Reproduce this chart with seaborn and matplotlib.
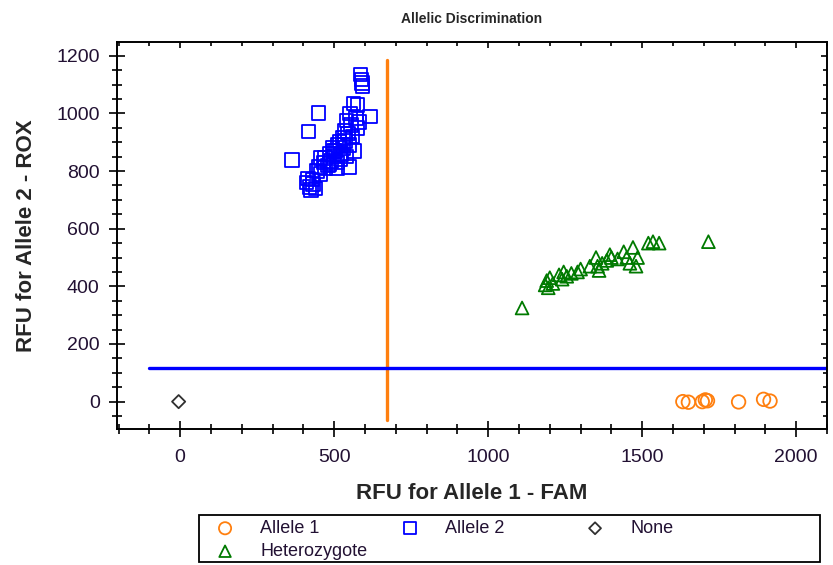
import matplotlib
matplotlib.use("Agg")
import matplotlib.pyplot as plt
from matplotlib.ticker import MultipleLocator
from matplotlib.lines import TICKDOWN, TICKLEFT
from matplotlib.patches import Rectangle
import numpy as np
import pandas as pd
import seaborn as sns

# ---- data ----
allele1_x = [1632, 1650, 1695, 1705, 1712, 1813, 1894, 1915]
allele1_y = [0, -2, 0, 6, 3, -1, 8, 2]

allele2_x = [363, 417, 449, 585, 588, 590, 592, 617, 563, 575, 552, 540, 570, 580,
             410, 420, 425, 430, 440, 445, 450, 455, 465, 470, 480, 485, 490, 495,
             500, 505, 510, 512, 518, 522, 528, 530, 535, 540, 545, 550, 555, 560,
             565, 575, 510, 500, 520, 470, 485, 455, 535, 548, 415, 432]
allele2_y = [838, 937, 1002, 1135, 1118, 1105, 1095, 990, 1035, 1030, 1000, 975, 985, 970,
             760, 745, 735, 770, 740, 800, 815, 790, 830, 845, 820, 860, 835, 880,
             850, 870, 830, 890, 900, 860, 915, 880, 940, 850, 930, 890, 960, 920,
             870, 950, 810, 870, 840, 810, 825, 845, 905, 815, 775, 755]

het_x = [1110, 1185, 1190, 1195, 1200, 1210, 1230, 1240, 1245, 1255, 1270, 1290,
         1300, 1330, 1350, 1355, 1360, 1370, 1385, 1395, 1400, 1420, 1440, 1450,
         1460, 1470, 1480, 1485, 1520, 1535, 1555, 1715]
het_y = [325, 405, 420, 395, 430, 410, 440, 425, 450, 435, 445, 450,
         460, 470, 500, 470, 455, 480, 490, 510, 500, 495, 520, 500,
         480, 535, 470, 500, 550, 555, 550, 555]

none_x = [-5]
none_y = [0]

# threshold lines
fam_cut = 672
fam_cut_span = [-65, 1185]
rox_cut = 117
rox_cut_span = [-100, 2100]

sns.set_style("ticks")
plt.rcParams['font.family'] = ['Liberation Sans', 'DejaVu Sans']

fig = plt.figure(figsize=(8.33, 5.65), dpi=100)
ax = fig.add_axes([0.1405, 0.2407, 0.8523, 0.685])

groups = [
    ("Allele 1", allele1_x, allele1_y, "o", "#FF7F0E", 95),
    ("Allele 2", allele2_x, allele2_y, "s", "#0000FF", 95),
    ("None", none_x, none_y, "D", "#303030", 45),
    ("Heterozygote", het_x, het_y, "^", "#007A00", 85),
]
for name, gx, gy, mk, col, sz in groups:
    df = pd.DataFrame({"x": gx, "y": gy})
    sns.scatterplot(data=df, x="x", y="y", ax=ax, marker=mk, s=sz, color=col,
                    facecolor="none", edgecolor=col, linewidth=1.3,
                    legend=False, label=name, zorder=3)

ax.plot([fam_cut, fam_cut], fam_cut_span, color="#FF7F0E", lw=2.4, zorder=2)
ax.plot(rox_cut_span, [rox_cut, rox_cut], color="#0000FF", lw=2.4, zorder=2)

ax.set_xlim(-205, 2100)
ax.set_ylim(-95, 1248)

ax.xaxis.set_major_locator(MultipleLocator(500))
ax.xaxis.set_minor_locator(MultipleLocator(100))
ax.yaxis.set_major_locator(MultipleLocator(200))
ax.yaxis.set_minor_locator(MultipleLocator(50))

for s in ax.spines.values():
    s.set_visible(True)
    s.set_linewidth(1.4)
    s.set_color("black")

ax.tick_params(which="both", top=True, right=True, colors="black",
               labelsize=14, width=1.2)
ax.tick_params(which="major", direction="inout", length=11)
ax.tick_params(which="minor", direction="inout", length=6.5)
ax.tick_params(axis="x", which="both", labelcolor="#221133", pad=9)
ax.tick_params(axis="y", which="both", labelcolor="#221133", pad=7)

# top/right ticks only point inwards
for t in ax.xaxis.get_major_ticks():
    t.tick2line.set_marker(TICKDOWN)
    t.tick2line.set_markersize(4.5)
for t in ax.xaxis.get_minor_ticks():
    t.tick2line.set_marker(TICKDOWN)
    t.tick2line.set_markersize(3)
for t in ax.yaxis.get_major_ticks():
    t.tick2line.set_marker(TICKLEFT)
    t.tick2line.set_markersize(4.5)
for t in ax.yaxis.get_minor_ticks():
    t.tick2line.set_marker(TICKLEFT)
    t.tick2line.set_markersize(3)

ax.set_xlabel("RFU for Allele 1 - FAM", fontsize=16, fontweight="bold", labelpad=12)
ax.set_ylabel("RFU for Allele 2 - ROX", fontsize=16, fontweight="bold", labelpad=14)
ax.set_title("Allelic Discrimination", fontsize=10, fontweight="bold", pad=14)

# legend: one block per column, inside a plain black box
h, l = ax.get_legend_handles_labels()
hd = dict(zip(l, h))
columns = [(["Allele 1", "Heterozygote"], 207), (["Allele 2"], 392), (["None"], 577)]
for names, xpix in columns:
    lg = fig.legend([hd[n] for n in names], names, loc="upper left",
                    bbox_to_anchor=(xpix / 833, 1 - 520 / 565), frameon=False,
                    fontsize=13, borderpad=0, borderaxespad=0, labelspacing=0.33,
                    handlelength=2.0, handletextpad=0.95, markerscale=0.9)
    for t in lg.get_texts():
        t.set_color("#221133")

fig.patches.append(Rectangle((199 / 833, 1 - 562 / 565), (820 - 199) / 833, 47 / 565,
                             transform=fig.transFigure, fill=False,
                             edgecolor="black", linewidth=1.3))

fig.savefig("out.png", dpi=100)
